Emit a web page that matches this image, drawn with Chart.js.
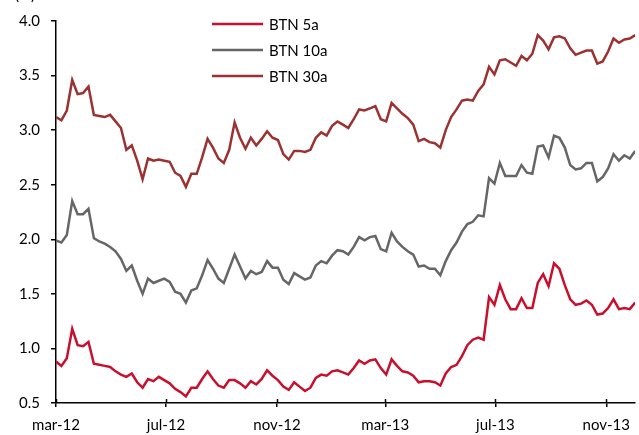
<html>
<head>
<style>
  body { margin: 0; background: #fff; }
</style>
</head>
<body>
<canvas id="lineChart" width="639" height="435"></canvas>
<script src="https://cdn.jsdelivr.net/npm/chart.js"></script>
<script>
    // days since 1 mar 2012
    const days = [0,6,12,18,24,30,36,42,48,54,60,66,72,78,84,90,96,102,108,114,120,126,132,138,144,150,156,162,168,174,180,186,192,198,204,210,216,222,228,234,240,246,252,258,264,270,276,282,288,294,300,306,312,318,324,330,336,342,348,354,360,366,372,378,384,390,396,402,408,414,420,426,432,438,444,450,456,462,468,474,480,486,492,498,504,510,516,522,528,534,540,546,552,558,564,570,576,582,588,594,600,606,612,618,624,630,636,642];

    const btn5 = [0.88,0.84,0.91,1.18,1.03,1.02,1.06,0.86,0.85,0.84,0.83,0.79,0.76,0.74,0.77,0.69,0.64,0.72,0.70,0.74,0.71,0.68,0.63,0.60,0.56,0.64,0.64,0.72,0.79,0.72,0.66,0.64,0.71,0.71,0.68,0.64,0.70,0.67,0.72,0.80,0.75,0.71,0.65,0.62,0.69,0.65,0.61,0.64,0.73,0.76,0.75,0.79,0.80,0.78,0.76,0.82,0.89,0.86,0.89,0.90,0.82,0.76,0.90,0.84,0.79,0.78,0.75,0.69,0.70,0.70,0.69,0.66,0.77,0.83,0.85,0.93,1.03,1.08,1.10,1.08,1.47,1.40,1.58,1.45,1.36,1.36,1.46,1.37,1.37,1.60,1.68,1.57,1.78,1.73,1.58,1.45,1.40,1.41,1.44,1.40,1.31,1.32,1.37,1.45,1.36,1.37,1.36,1.42];

    const btn10 = [1.99,1.97,2.04,2.35,2.23,2.23,2.28,2.01,1.98,1.96,1.93,1.89,1.82,1.71,1.76,1.62,1.50,1.64,1.60,1.62,1.64,1.61,1.52,1.50,1.42,1.53,1.55,1.67,1.81,1.73,1.64,1.60,1.73,1.86,1.75,1.64,1.71,1.68,1.70,1.80,1.74,1.74,1.63,1.59,1.69,1.66,1.63,1.65,1.76,1.80,1.78,1.85,1.90,1.89,1.86,1.93,2.02,1.99,2.02,2.03,1.91,1.89,2.06,1.98,1.93,1.89,1.86,1.75,1.76,1.73,1.73,1.67,1.80,1.90,1.97,2.07,2.14,2.16,2.22,2.21,2.56,2.51,2.70,2.58,2.58,2.58,2.68,2.61,2.60,2.85,2.86,2.75,2.95,2.93,2.84,2.68,2.64,2.65,2.70,2.70,2.53,2.57,2.65,2.78,2.72,2.77,2.74,2.81];

    const btn30 = [3.12,3.09,3.18,3.46,3.33,3.34,3.40,3.14,3.13,3.12,3.14,3.08,3.02,2.82,2.86,2.72,2.55,2.74,2.72,2.73,2.72,2.71,2.61,2.58,2.48,2.60,2.60,2.75,2.92,2.84,2.74,2.70,2.82,3.07,2.93,2.83,2.93,2.86,2.92,2.99,2.93,2.91,2.78,2.73,2.81,2.81,2.80,2.82,2.93,2.98,2.95,3.04,3.08,3.05,3.02,3.10,3.19,3.18,3.20,3.22,3.10,3.08,3.25,3.20,3.15,3.11,3.05,2.90,2.92,2.89,2.88,2.84,3.00,3.12,3.19,3.27,3.28,3.27,3.36,3.42,3.58,3.51,3.64,3.65,3.62,3.59,3.68,3.64,3.70,3.87,3.82,3.74,3.85,3.86,3.84,3.75,3.69,3.71,3.73,3.73,3.61,3.63,3.72,3.84,3.80,3.83,3.84,3.87];

    const tickDays = [0,122,245,365,487,610];
    const tickLabels = ['mar-12','jul-12','nov-12','mar-13','jul-13','nov-13'];

    const seriesNames = ['BTN 5a','BTN 10a','BTN 30a'];
    const colors = ['#c8102e','#666666','#9b3131'];

    const font = 'Lato';

    function pts(vals) {
        return vals.map((v, i) => ({x: days[i], y: v}));
    }

    // legend, unit label and the inner half of the x ticks
    const extras = {
        id: 'extras',
        afterDraw(chart) {
            const ctx = chart.ctx;
            ctx.save();
            ctx.fillStyle = '#000';
            ctx.font = '15px ' + font;
            ctx.textBaseline = 'alphabetic';
            ctx.fillText('(%)', 15, 0);

            const xs = chart.scales.x;
            const bottom = chart.chartArea.bottom;
            ctx.strokeStyle = '#000';
            ctx.lineWidth = 1.5;
            tickDays.forEach(d => {
                const px = Math.round(xs.getPixelForValue(d)) + 0.5;
                ctx.beginPath();
                ctx.moveTo(px, bottom - 4);
                ctx.lineTo(px, bottom);
                ctx.stroke();
            });

            ctx.textBaseline = 'middle';
            chart.data.datasets.forEach((ds, i) => {
                const y = 24 + i * 26;
                ctx.strokeStyle = ds.borderColor;
                ctx.lineWidth = 2.5;
                ctx.beginPath();
                ctx.moveTo(212, y);
                ctx.lineTo(263, y);
                ctx.stroke();
                ctx.fillStyle = '#000';
                ctx.fillText(ds.label, 269, y + 1);
            });
            ctx.restore();
        }
    };

    const data = {
        datasets: [btn5, btn10, btn30].map((vals, i) => ({
            label: seriesNames[i],
            data: pts(vals),
            borderColor: colors[i],
            borderWidth: 2.5,
            pointRadius: 0,
            tension: 0,
            fill: false
        }))
    };

    const config = {
        type: 'line',
        data: data,
        options: {
            responsive: false,
            animation: false,
            layout: {padding: {top: 21, right: 0, left: 0, bottom: 0}},
            plugins: {
                legend: {display: false},
                tooltip: {enabled: false}
            },
            scales: {
                x: {
                    type: 'linear',
                    min: 0,
                    max: 642,
                    afterBuildTicks: axis => {
                        axis.ticks = tickDays.map(v => ({value: v}));
                    },
                    afterFit: axis => { axis.height = 32; },
                    ticks: {
                        autoSkip: false,
                        maxRotation: 0,
                        padding: 9,
                        color: '#000',
                        font: {family: font, size: 15},
                        callback: v => tickLabels[tickDays.indexOf(v)]
                    },
                    grid: {display: true, drawOnChartArea: false, tickLength: 4, color: '#000', lineWidth: 1.5},
                    border: {display: true, color: '#000', width: 1.5}
                },
                y: {
                    min: 0.5,
                    max: 4.0,
                    afterFit: axis => { axis.width = 56; },
                    ticks: {
                        stepSize: 0.5,
                        padding: 11,
                        color: '#000',
                        font: {family: font, size: 15},
                        callback: v => v.toFixed(1)
                    },
                    grid: {display: true, drawOnChartArea: false, tickLength: 5, color: '#000', lineWidth: 1.5},
                    border: {display: true, color: '#000', width: 1.5}
                }
            }
        },
        plugins: [extras]
    };

    const lineChart = new Chart(document.getElementById('lineChart').getContext('2d'), config);
</script>
</body>
</html>
